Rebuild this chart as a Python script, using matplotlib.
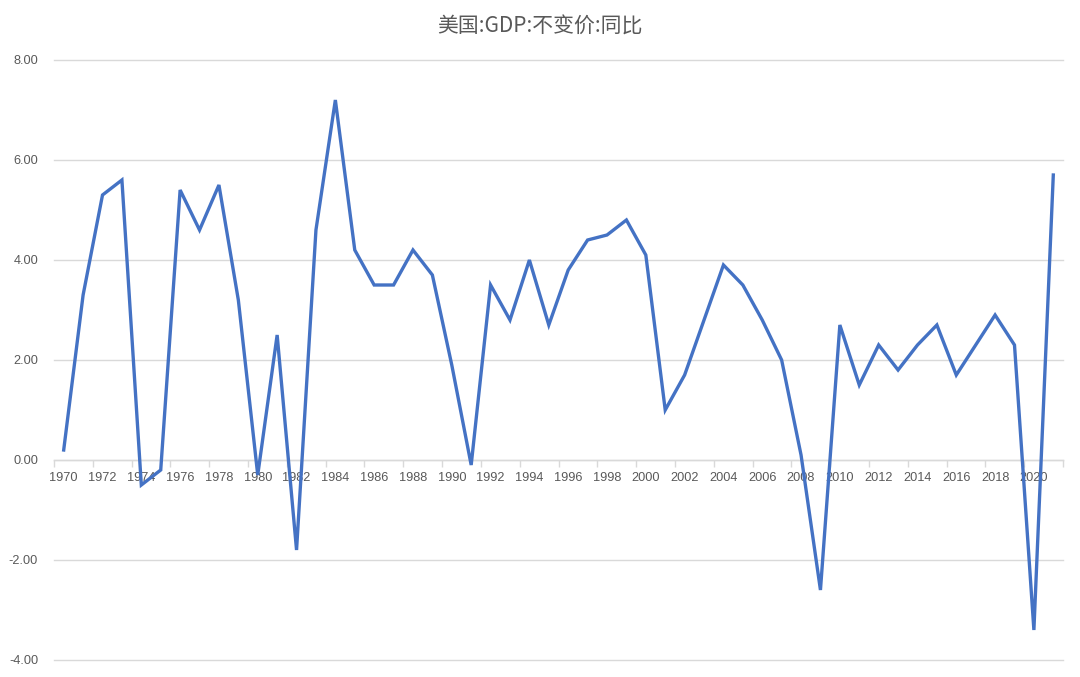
import matplotlib
matplotlib.use("Agg")
import matplotlib.pyplot as plt
from matplotlib.ticker import FixedLocator, FixedFormatter, NullFormatter

years = list(range(1970, 2022))
growth = [0.2, 3.3, 5.3, 5.6, -0.5, -0.2, 5.4, 4.6, 5.5, 3.2,
          -0.3, 2.5, -1.8, 4.6, 7.2, 4.2, 3.5, 3.5, 4.2, 3.7,
          1.9, -0.1, 3.5, 2.8, 4.0, 2.7, 3.8, 4.4, 4.5, 4.8,
          4.1, 1.0, 1.7, 2.8, 3.9, 3.5, 2.8, 2.0, 0.1, -2.6,
          2.7, 1.5, 2.3, 1.8, 2.3, 2.7, 1.7, 2.3, 2.9, 2.3,
          -3.4, 5.7]
yticks = [-4, -2, 0, 2, 4, 6, 8]
title = "美国:GDP:不变价:同比"

plt.rcParams['font.family'] = ['Liberation Sans', 'Noto Sans CJK SC', 'DejaVu Sans']

fig = plt.figure(figsize=(10.8, 6.77), dpi=100)
ax = fig.add_axes([54/1080, 1 - 660/677, (1063-54)/1080, 600/677])

gray = '#595959'
ax.plot(years, growth, color='#4472C4', lw=2.4, solid_joinstyle='miter', zorder=3)

ax.set_xlim(1969.5, 2021.5)
ax.set_ylim(-4, 8)
ax.set_yticks(yticks)
ax.set_yticklabels([f"{v:.2f}" for v in yticks])
ax.grid(axis='y', color='#d9d9d9', lw=1)
for gl in ax.get_ygridlines():
    gl.set_clip_on(False)
ax.set_axisbelow(True)

for s in ['top', 'right', 'left']:
    ax.spines[s].set_visible(False)
ax.spines['bottom'].set_position(('data', 0))
ax.spines['bottom'].set_color('#d9d9d9')
ax.spines['bottom'].set_linewidth(1)

ax.xaxis.set_major_locator(FixedLocator([1969.5 + 2*k for k in range(27)]))
ax.xaxis.set_major_formatter(NullFormatter())
ax.xaxis.set_minor_locator(FixedLocator(years[::2]))
ax.xaxis.set_minor_formatter(FixedFormatter([str(y) for y in years[::2]]))
ax.tick_params(axis='x', which='major', length=5, color='#d9d9d9', width=1, direction='out')
ax.tick_params(axis='x', which='minor', length=0, pad=8.3, labelsize=9.2, labelcolor=gray)
ax.tick_params(axis='y', length=0, pad=11.5, labelsize=9.2, labelcolor=gray)

fig.text(540/1080, 1 - 27/677, title, ha='center', va='center', fontsize=15, color=gray,
         family=['Noto Sans CJK SC', 'DejaVu Sans'])

fig.savefig('out.png', dpi=100)
